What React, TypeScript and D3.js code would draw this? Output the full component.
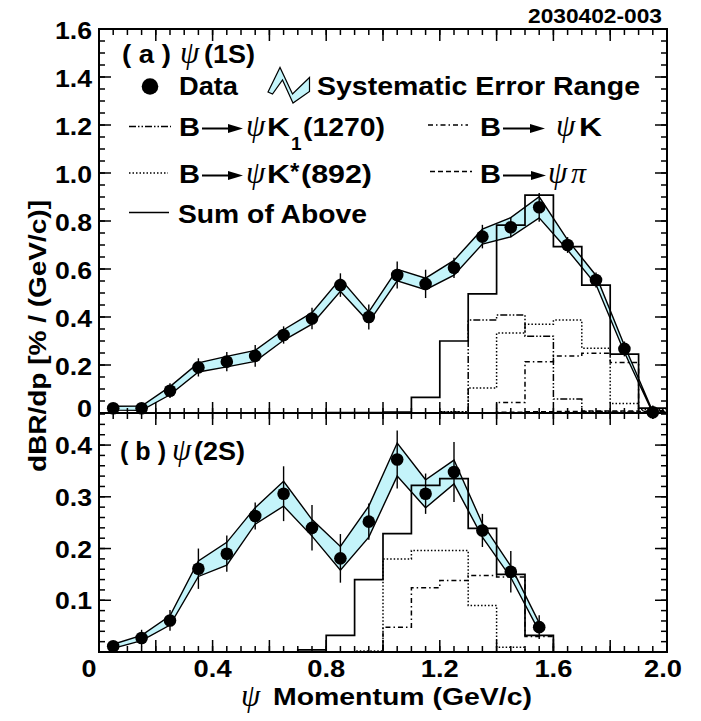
import React from 'react';
import * as d3 from 'd3';

// psi(1S) momentum spectrum
const p1S = [0.05, 0.15, 0.25, 0.35, 0.45, 0.55, 0.65, 0.75, 0.85, 0.95, 1.05, 1.15, 1.25, 1.35, 1.45, 1.55, 1.65, 1.75, 1.85, 1.95];
const data1S = [0.02, 0.02, 0.093, 0.19, 0.214, 0.238, 0.325, 0.394, 0.533, 0.40, 0.575, 0.538, 0.605, 0.735, 0.774, 0.857, 0.70, 0.554, 0.267, 0.003];
const stat1S = [0.015, 0.015, 0.031, 0.038, 0.04, 0.045, 0.036, 0.045, 0.049, 0.052, 0.056, 0.059, 0.042, 0.049, 0.042, 0.06, 0.033, 0.031, 0.031, 0.028];
const sys1S = [0.008, 0.009, 0.017, 0.019, 0.022, 0.023, 0.022, 0.024, 0.026, 0.021, 0.024, 0.024, 0.031, 0.031, 0.04, 0.044, 0.021, 0.019, 0.014, 0.003];

// psi(1S) MC components
const edges1S = [0.8, 0.9, 1.0, 1.1, 1.2, 1.3, 1.4, 1.5, 1.6, 1.7, 1.8, 1.9, 2.0];
const sum1S = [0.002, 0.002, 0.004, 0.065, 0.30, 0.496, 0.783, 0.908, 0.693, 0.533, 0.245, 0.02];
const k1_1S = [0, 0, 0, 0, 0.004, 0.387, 0.408, 0.32, 0.058, 0.006, 0.004, 0.003];
const kstar1S = [0, 0, 0, 0, 0.005, 0.104, 0.333, 0.37, 0.387, 0.27, 0.04, 0.015];
const k_1S = [0, 0, 0, 0, 0, 0, 0.044, 0.214, 0.237, 0.249, 0.21, 0.01];
const pi1S = [0, 0, 0, 0, 0, 0, 0.003, 0.005, 0.006, 0.008, 0.008, 0.006];

// psi(2S) momentum spectrum
const p2S = [0.05, 0.15, 0.25, 0.35, 0.45, 0.55, 0.65, 0.75, 0.85, 0.95, 1.05, 1.15, 1.25, 1.35, 1.45, 1.55];
const data2S = [0.011, 0.027, 0.061, 0.161, 0.19, 0.263, 0.306, 0.24, 0.181, 0.252, 0.372, 0.306, 0.348, 0.235, 0.155, 0.048];
const stat2S = [0.006, 0.016, 0.02, 0.039, 0.035, 0.026, 0.053, 0.044, 0.047, 0.035, 0.056, 0.039, 0.058, 0.032, 0.04, 0.023];
const sys2S = [0.004, 0.005, 0.009, 0.015, 0.022, 0.016, 0.024, 0.016, 0.023, 0.03, 0.032, 0.027, 0.023, 0.013, 0.011, 0.008];

// psi(2S) MC components
const edges2S = [0.7, 0.8, 0.9, 1.0, 1.1, 1.2, 1.3, 1.4, 1.5, 1.6];
const sum2S = [0.004, 0.032, 0.14, 0.229, 0.322, 0.335, 0.239, 0.15, 0.032];
const kstar2S = [0, 0, 0.002, 0.18, 0.196, 0.196, 0.09, 0.009, 0];
const k_2S = [0, 0, 0, 0.048, 0.124, 0.138, 0.148, 0.145, 0.03];

const yTopTicks = [0, 0.2, 0.4, 0.6, 0.8, 1.0, 1.2, 1.4, 1.6];
const yBotTicks = [0.1, 0.2, 0.3, 0.4];
const xTicks = [0, 0.4, 0.8, 1.2, 1.6, 2.0];

const SANS = '"Liberation Sans", Arial, Helvetica, sans-serif';
const SERIF = '"Liberation Serif", "Times New Roman", serif';
const BAND = '#c4f4fa';

const L = 99, R = 667, T = 29, M = 413, B = 652;
const x = d3.scaleLinear().domain([0, 2]).range([L, R]);
const yTop = d3.scaleLinear().domain([0, 1.6]).range([M, T]);
const yBot = d3.scaleLinear().domain([0, 0.462]).range([B, M]);

const DASH = {
  k1: '7,2,1.5,2,1.5,2',
  k: '5,3,1.5,3',
  kstar: '1.5,2',
  pi: '5,3',
};

function stepPath(edges: number[], vals: number[], ys: d3.ScaleLinear<number, number>) {
  const pts: [number, number][] = [[edges[0], 0]];
  vals.forEach((v, i) => {
    pts.push([edges[i], v], [edges[i + 1], v]);
  });
  pts.push([edges[edges.length - 1], 0]);
  return d3.line<[number, number]>().x(d => x(d[0])).y(d => ys(d[1]))(pts) || '';
}

function Txt(props: { x: number; y: number; s?: number; len?: number; anchor?: string; serif?: boolean; children: React.ReactNode }) {
  const { s = 25, len, anchor = 'start', serif } = props;
  return (
    <text
      x={props.x}
      y={props.y}
      fontSize={s}
      fontFamily={serif ? SERIF : SANS}
      fontStyle={serif ? 'italic' : 'normal'}
      fontWeight={serif ? 'normal' : 'bold'}
      textAnchor={anchor}
      textLength={len}
      lengthAdjust={len ? 'spacingAndGlyphs' : undefined}
      fill="#000"
    >
      {props.children}
    </text>
  );
}

function Arrow({ x1, x2, y }: { x1: number; x2: number; y: number }) {
  return (
    <g>
      <line x1={x1} x2={x2 - 10} y1={y} y2={y} stroke="#000" strokeWidth={2} />
      <path d={`M${x2 - 15},${y - 4.5} L${x2},${y} L${x2 - 15},${y + 4.5} Z`} fill="#000" />
    </g>
  );
}

function Band({ xs, ys, sys, sc }: { xs: number[]; ys: number[]; sys: number[]; sc: d3.ScaleLinear<number, number> }) {
  const idx = d3.range(xs.length);
  const band = d3.area<number>()
    .x(i => x(xs[i]))
    .y0(i => sc(Math.max(0, ys[i] - sys[i])))
    .y1(i => sc(ys[i] + sys[i]))(idx) || '';
  return <path d={band} fill={BAND} stroke="#000" strokeWidth={1.4} />;
}

function Points({ xs, ys, stat, sc }: { xs: number[]; ys: number[]; stat: number[]; sc: d3.ScaleLinear<number, number> }) {
  return (
    <g>
      {xs.map((p, i) => (
        <line key={'e' + i} x1={x(p)} x2={x(p)} y1={sc(ys[i] - stat[i])} y2={sc(ys[i] + stat[i])} stroke="#000" strokeWidth={1.4} />
      ))}
      {xs.map((p, i) => (
        <circle key={'c' + i} cx={x(p)} cy={sc(ys[i])} r={6.3} fill="#000" />
      ))}
    </g>
  );
}

export default function App() {
  const fmt = (v: number) => (v === 0 ? '0' : d3.format('.1f')(v));
  const topMinor = d3.range(0, 1.6001, 0.05);
  const topMajor = d3.range(0, 1.6001, 0.2);
  const botMinor = d3.range(0.02, 0.4601, 0.02);
  const botMajor = d3.range(0.1, 0.4601, 0.1);
  const xMinor = d3.range(0, 2.0001, 0.05);
  const xMajor = d3.range(0, 2.0001, 0.2);

  const tick = (k: string, x1: number, y1: number, x2: number, y2: number) => (
    <line key={k} x1={x1} y1={y1} x2={x2} y2={y2} stroke="#000" strokeWidth={1.5} />
  );

  return (
    <svg width={701} height={721} style={{ position: 'absolute', left: 0, top: 0, background: '#fff' }}>
      {/* top panel */}
      <Band xs={p1S} ys={data1S} sys={sys1S} sc={yTop} />
      <path d={stepPath(edges1S, k1_1S, yTop)} fill="none" stroke="#000" strokeWidth={1.5} strokeDasharray={DASH.k1} />
      <path d={stepPath(edges1S, kstar1S, yTop)} fill="none" stroke="#000" strokeWidth={1.5} strokeDasharray={DASH.kstar} />
      <path d={stepPath(edges1S, k_1S, yTop)} fill="none" stroke="#000" strokeWidth={1.5} strokeDasharray={DASH.k} />
      <path d={stepPath(edges1S, pi1S, yTop)} fill="none" stroke="#000" strokeWidth={1.5} strokeDasharray={DASH.pi} />
      <path d={stepPath(edges1S, sum1S, yTop)} fill="none" stroke="#000" strokeWidth={1.7} />
      <Points xs={p1S} ys={data1S} stat={stat1S} sc={yTop} />

      {/* bottom panel */}
      <Band xs={p2S} ys={data2S} sys={sys2S} sc={yBot} />
      <path d={stepPath(edges2S, kstar2S, yBot)} fill="none" stroke="#000" strokeWidth={1.5} strokeDasharray={DASH.kstar} />
      <path d={stepPath(edges2S, k_2S, yBot)} fill="none" stroke="#000" strokeWidth={1.5} strokeDasharray={DASH.k} />
      <path d={stepPath(edges2S, sum2S, yBot)} fill="none" stroke="#000" strokeWidth={1.7} />
      <Points xs={p2S} ys={data2S} stat={stat2S} sc={yBot} />

      {/* frame and ticks */}
      <rect x={L} y={T} width={R - L} height={B - T} fill="none" stroke="#000" strokeWidth={2} />
      <line x1={L} x2={R} y1={M} y2={M} stroke="#000" strokeWidth={2} />
      {topMinor.map((v, i) => tick('tl' + i, L, yTop(v), L + 6, yTop(v)))}
      {topMajor.map((v, i) => tick('tL' + i, L, yTop(v), L + 12, yTop(v)))}
      {topMinor.map((v, i) => tick('tr' + i, R, yTop(v), R - 6, yTop(v)))}
      {topMajor.map((v, i) => tick('tR' + i, R, yTop(v), R - 12, yTop(v)))}
      {botMinor.map((v, i) => tick('bl' + i, L, yBot(v), L + 6, yBot(v)))}
      {botMajor.map((v, i) => tick('bL' + i, L, yBot(v), L + 12, yBot(v)))}
      {botMinor.map((v, i) => tick('br' + i, R, yBot(v), R - 6, yBot(v)))}
      {botMajor.map((v, i) => tick('bR' + i, R, yBot(v), R - 12, yBot(v)))}
      {xMinor.map((v, i) => tick('xt' + i, x(v), T, x(v), T + 6))}
      {xMajor.map((v, i) => tick('xT' + i, x(v), T, x(v), T + 12))}
      {xMinor.map((v, i) => tick('xm' + i, x(v), M - 5, x(v), M + 6))}
      {xMajor.map((v, i) => tick('xM' + i, x(v), M - 11, x(v), M + 12))}
      {xMinor.map((v, i) => tick('xb' + i, x(v), B, x(v), B - 6))}
      {xMajor.map((v, i) => tick('xB' + i, x(v), B, x(v), B - 12))}

      {/* tick labels */}
      {yTopTicks.map(v => (
        <Txt key={'yt' + v} x={92} y={yTop(v) + (v === 0 ? 4 : 10)} s={23} anchor="end" len={v === 0 ? 15 : 37}>{fmt(v)}</Txt>
      ))}
      {yBotTicks.map(v => (
        <Txt key={'yb' + v} x={92} y={yBot(v) + 9} s={23} anchor="end" len={37}>{fmt(v)}</Txt>
      ))}
      {xTicks.map(v => (
        <Txt key={'xl' + v} x={v === 0 ? 89 : v === 2 ? 663 : x(v)} y={677} s={23} anchor="middle" len={v === 0 ? 15 : 38}>{fmt(v)}</Txt>
      ))}

      {/* axis titles */}
      <g transform="translate(46,336) rotate(-90)">
        <Txt x={0} y={0} s={24} anchor="middle" len={272}>dBR/dp [% / (GeV/c)]</Txt>
      </g>
      <Txt x={241} y={706} s={31} serif>ψ</Txt>
      <Txt x={273} y={705} s={24} len={259}>Momentum (GeV/c)</Txt>
      <Txt x={662} y={23} s={20} anchor="end" len={134}>2030402-003</Txt>

      {/* panel labels */}
      <Txt x={122} y={63} len={49}>( a )</Txt>
      <Txt x={180} y={63} s={31} serif>ψ</Txt>
      <Txt x={204} y={63} len={51}>(1S)</Txt>
      <Txt x={120} y={460} len={46}>( b )</Txt>
      <Txt x={172} y={460} s={31} serif>ψ</Txt>
      <Txt x={194} y={460} len={51}>(2S)</Txt>

      {/* legend */}
      <circle cx={150} cy={86.5} r={8.3} fill="#000" />
      <Txt x={179} y={95} len={59}>Data</Txt>
      <polygon
        points="268,92 280,67.5 292.5,94 309.5,77.5 309.5,91.5 293,103 282.5,80 272.5,94"
        fill={BAND}
        stroke="#000"
        strokeWidth={1.2}
      />
      <Txt x={317} y={95} len={323}>Systematic Error Range</Txt>

      <line x1={129} x2={171} y1={126.5} y2={126.5} stroke="#000" strokeWidth={1.5} strokeDasharray={DASH.k1} />
      <Txt x={179} y={136} len={21}>B</Txt>
      <Arrow x1={202} x2={243} y={128.5} />
      <Txt x={246} y={136} s={31} serif>ψ</Txt>
      <Txt x={267} y={136} len={23}>K</Txt>
      <Txt x={291} y={150} s={19}>1</Txt>
      <Txt x={303} y={136} len={82}>(1270)</Txt>

      <line x1={428} x2={468} y1={125} y2={125} stroke="#000" strokeWidth={1.5} strokeDasharray={DASH.k} />
      <Txt x={480} y={136} len={21}>B</Txt>
      <Arrow x1={503} x2={545} y={128.5} />
      <Txt x={556} y={136} s={31} serif>ψ</Txt>
      <Txt x={579} y={136} len={23}>K</Txt>

      <line x1={129} x2={168} y1={173} y2={173} stroke="#000" strokeWidth={1.5} strokeDasharray={DASH.kstar} />
      <Txt x={179} y={183} len={21}>B</Txt>
      <Arrow x1={202} x2={243} y={175.5} />
      <Txt x={246} y={183} s={31} serif>ψ</Txt>
      <Txt x={267} y={183} len={23}>K</Txt>
      <Txt x={290} y={180} s={24}>*</Txt>
      <Txt x={301} y={183} len={71}>(892)</Txt>

      <line x1={430} x2={472} y1={171.5} y2={171.5} stroke="#000" strokeWidth={1.5} strokeDasharray={DASH.pi} />
      <Txt x={480} y={183} len={21}>B</Txt>
      <Arrow x1={503} x2={546} y={175.5} />
      <Txt x={548} y={183} s={31} serif>ψ</Txt>
      <Txt x={571} y={183} s={30} serif>π</Txt>

      <line x1={129} x2={169} y1={212.5} y2={212.5} stroke="#000" strokeWidth={1.7} />
      <Txt x={178} y={223} len={189}>Sum of Above</Txt>
    </svg>
  );
}
